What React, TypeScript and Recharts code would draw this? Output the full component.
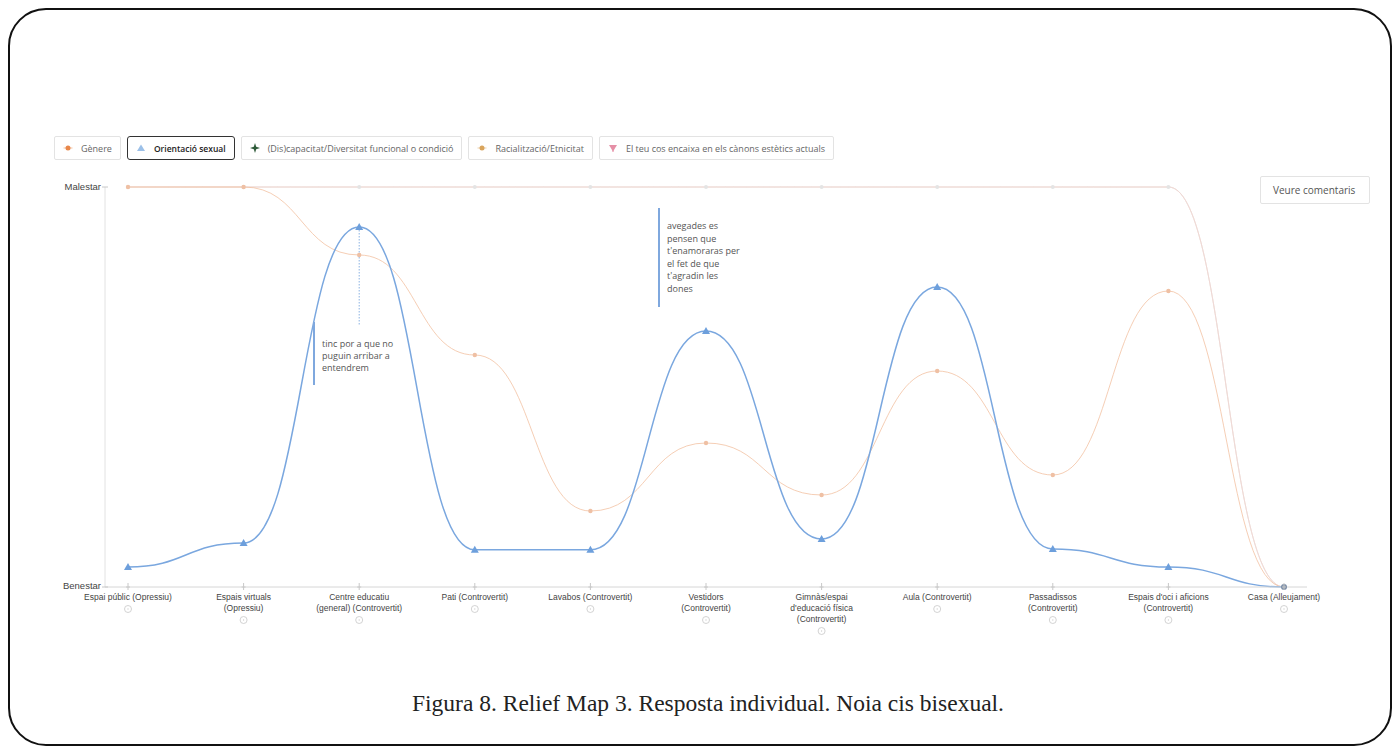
import React from 'react';
import { LineChart, Line, XAxis, YAxis, ReferenceLine } from 'recharts';

const categories = [
  'Espai públic (Opressiu)',
  'Espais virtuals (Opressiu)',
  'Centre educatiu (general) (Controvertit)',
  'Pati (Controvertit)',
  'Lavabos (Controvertit)',
  'Vestidors (Controvertit)',
  "Gimnàs/espai d'educació física (Controvertit)",
  'Aula (Controvertit)',
  'Passadissos (Controvertit)',
  "Espais d'oci i aficions (Controvertit)",
  'Casa (Alleujament)',
];

const tickLines: string[][] = [
  ['Espai públic (Opressiu)'],
  ['Espais virtuals', '(Opressiu)'],
  ['Centre educatiu', '(general) (Controvertit)'],
  ['Pati (Controvertit)'],
  ['Lavabos (Controvertit)'],
  ['Vestidors', '(Controvertit)'],
  ['Gimnàs/espai', "d'educació física", '(Controvertit)'],
  ['Aula (Controvertit)'],
  ['Passadissos', '(Controvertit)'],
  ["Espais d'oci i aficions", '(Controvertit)'],
  ['Casa (Alleujament)'],
];

// 0 = Benestar, 100 = Malestar
const orientacioSexual = [5, 11, 90, 9.3, 9.3, 64, 12, 75, 9.5, 5, 0];
const genere = [100, 100, 83, 58, 19, 36, 23, 54, 28, 74, 0];
const discapacitat = [100, 100, 100, 100, 100, 100, 100, 100, 100, 100, 0];
const racialitzacio = [100, 100, 100, 100, 100, 100, 100, 100, 100, 100, 0];
const cosEstetic = [100, 100, 100, 100, 100, 100, 100, 100, 100, 100, 0];

const yTickLabels: Record<number, string> = { 0: 'Benestar', 100: 'Malestar' };

const legendItems = [
  { label: 'Gènere', icon: 'dotOrange', selected: false },
  { label: 'Orientació sexual', icon: 'triBlue', selected: true },
  { label: '(Dis)capacitat/Diversitat funcional o condició', icon: 'starGreen', selected: false },
  { label: 'Racialització/Etnicitat', icon: 'dotTan', selected: false },
  { label: 'El teu cos encaixa en els cànons estètics actuals', icon: 'triPink', selected: false },
];

const annotationA = ['tinc por a que no', 'puguin arribar a', 'entendrem'];
const annotationB = ['avegades es', 'pensen que', "t'enamoraras per", 'el fet de que', "t'agradin les", 'dones'];

const data = categories.map((c, i) => ({
  cat: c,
  orientacio: orientacioSexual[i],
  genere: genere[i],
  discapacitat: discapacitat[i],
  racialitzacio: racialitzacio[i],
  cos: cosEstetic[i],
}));

const uiFont = '"Open Sans", "DejaVu Sans", sans-serif';
const axisFont = '"Liberation Sans", Arial, sans-serif';

const LegendIcon = ({ kind }: { kind: string }) => {
  if (kind === 'triBlue')
    return (
      <svg width="10" height="10"><polygon points="5,1.5 9,8 1,8" fill="#9cc0e8" /></svg>
    );
  if (kind === 'triPink')
    return (
      <svg width="10" height="10"><polygon points="1,2 9,2 5,8.5" fill="#e58fa6" /><line x1="5" y1="2" x2="5" y2="9" stroke="#e58fa6" /></svg>
    );
  if (kind === 'starGreen')
    return (
      <svg width="10" height="10"><polygon points="5,0 6.2,3.8 10,5 6.2,6.2 5,10 3.8,6.2 0,5 3.8,3.8" fill="#2f5b3a" /></svg>
    );
  const col = kind === 'dotOrange' ? '#e8874a' : '#d9a45c';
  return (
    <svg width="10" height="10"><line x1="0.5" y1="5" x2="9.5" y2="5" stroke={col} strokeOpacity="0.5" /><circle cx="5" cy="5" r="2.5" fill={col} /></svg>
  );
};

const XTick = (props: any) => {
  const { x, y, index } = props;
  const lines = tickLines[index] || [];
  return (
    <g transform={`translate(${x},${y})`}>
      <line x1={0} y1={-4} x2={0} y2={3} stroke="#c8c8c8" strokeWidth={1} />
      <line x1={-2} y1={0} x2={2} y2={0} stroke="#c8c8c8" strokeWidth={1} />
      <text textAnchor="middle" fontFamily={axisFont} fontSize={8.5} fill="#444">
        {lines.map((l, i) => (
          <tspan key={i} x={0} y={13 + i * 11}>{l}</tspan>
        ))}
      </text>
      <circle cx={0} cy={10 + lines.length * 11 + 1} r={3.5} fill="none" stroke="#c8c8c8" strokeWidth={0.8} />
      <line x1={0} y1={10 + lines.length * 11} x2={0} y2={10 + lines.length * 11 + 2} stroke="#c8c8c8" strokeWidth={0.6} />
    </g>
  );
};

const YTick = (props: any) => {
  const { x, y, payload } = props;
  return (
    <g transform={`translate(${x},${y})`}>
      <line x1={-3} y1={0} x2={3} y2={0} stroke="#c8c8c8" />
      <text x={-4} y={payload.value === 0 ? 2 : 3} textAnchor="end" fontFamily={axisFont} fontSize={9.5} fill="#444">
        {yTickLabels[payload.value]}
      </text>
    </g>
  );
};

const TriDot = (props: any) => {
  const { cx, cy, index } = props;
  if (cx == null || cy == null) return <g key={index} />;
  if (index === orientacioSexual.length - 1)
    return <circle key={index} cx={cx} cy={cy} r={3} fill="#7d8fa8" />;
  return <polygon key={index} points={`${cx},${cy - 4} ${cx + 4},${cy + 3} ${cx - 4},${cy + 3}`} fill="#6d9fdc" />;
};

const FaintDot = (color: string, r: number) => (props: any) => {
  const { cx, cy, index } = props;
  if (cx == null || cy == null) return <g key={index} />;
  return <circle key={index} cx={cx} cy={cy} r={r} fill={color} />;
};

export default function App() {
  return (
    <div style={{ position: 'absolute', left: 0, top: 0, width: 1400, height: 753, background: '#fff', overflow: 'hidden' }}>
      <div
        style={{
          position: 'absolute', left: 8, top: 8, width: 1384, height: 738,
          border: '2px solid #111', borderRadius: 38, boxSizing: 'border-box',
        }}
      />
      <div style={{ position: 'absolute', left: 0, top: 0 }}>
        <LineChart width={1400} height={753} data={data} margin={{ top: 187, right: 93, bottom: 136, left: 45 }}>
          <XAxis
            dataKey="cat"
            padding={{ left: 23, right: 23 }}
            axisLine={{ stroke: '#d6d6d6' }}
            tickLine={false}
            tickSize={0}
            tickMargin={0}
            interval={0}
            height={30}
            tick={<XTick />}
          />
          <YAxis
            domain={[0, 100]}
            ticks={[0, 100]}
            width={60}
            axisLine={{ stroke: '#e2e2e2' }}
            tickLine={false}
            tickSize={0}
            tickMargin={0}
            tick={<YTick />}
          />
          <Line type="bumpX" dataKey="discapacitat" stroke="#d8d8d8" strokeWidth={1} strokeOpacity={0.5} dot={FaintDot('#e4e4e4', 2)} isAnimationActive={false} />
          <Line type="bumpX" dataKey="racialitzacio" stroke="#f1d7bd" strokeWidth={1} strokeOpacity={0.6} dot={false} isAnimationActive={false} />
          <Line type="bumpX" dataKey="cos" stroke="#f0d3da" strokeWidth={1} strokeOpacity={0.6} dot={false} isAnimationActive={false} />
          <Line type="bumpX" dataKey="genere" stroke="#f2c2a2" strokeWidth={1} strokeOpacity={0.8} dot={FaintDot('#efc0a4', 2.2)} isAnimationActive={false} />
          <ReferenceLine
            segment={[{ x: categories[2], y: 90 }, { x: categories[2], y: 65.5 }]}
            stroke="#8cb3e3"
            strokeDasharray="1.5 1.5"
            strokeWidth={1}
          />
          <Line type="bumpX" dataKey="orientacio" stroke="#7aa7df" strokeWidth={1.5} dot={TriDot} isAnimationActive={false} />
        </LineChart>
      </div>

      {/* legend */}
      <div style={{ position: 'absolute', left: 54, top: 136, display: 'flex', gap: 6 }}>
        {legendItems.map((it, i) => (
          <div
            key={i}
            style={{
              height: 24, boxSizing: 'border-box', display: 'flex', alignItems: 'center', gap: 8,
              padding: '0 8px 0 8px',
              border: it.selected ? '1.5px solid #333' : '1px solid #e3e3e3',
              borderRadius: it.selected ? 3 : 2,
              fontFamily: uiFont, fontSize: it.selected ? 8.5 : 9, color: it.selected ? '#222' : '#666',
              fontWeight: it.selected ? 600 : 400, whiteSpace: 'nowrap', background: '#fff',
            }}
          >
            <LegendIcon kind={it.icon} />
            <span>{it.label}</span>
          </div>
        ))}
      </div>

      {/* comments button */}
      <div
        style={{
          position: 'absolute', left: 1260, top: 176, width: 110, height: 28, boxSizing: 'border-box',
          border: '1px solid #e3e3e3', borderRadius: 2, fontFamily: uiFont, fontSize: 10, color: '#555',
          display: 'flex', alignItems: 'center', paddingLeft: 12, whiteSpace: 'nowrap',
        }}
      >
        Veure comentaris
      </div>

      {/* annotations */}
      <div style={{ position: 'absolute', left: 313, top: 322, width: 2, height: 63, background: '#7fa8de' }} />
      <div style={{ position: 'absolute', left: 322, top: 338, fontFamily: uiFont, fontSize: 9, lineHeight: '12px', color: '#555', whiteSpace: 'nowrap' }}>
        {annotationA.map((l, i) => <div key={i}>{l}</div>)}
      </div>
      <div style={{ position: 'absolute', left: 658, top: 208, width: 2, height: 99, background: '#7fa8de' }} />
      <div style={{ position: 'absolute', left: 667, top: 220, fontFamily: uiFont, fontSize: 9, lineHeight: '12.6px', color: '#555', whiteSpace: 'nowrap' }}>
        {annotationB.map((l, i) => <div key={i}>{l}</div>)}
      </div>

      {/* caption */}
      <div
        style={{
          position: 'absolute', left: 0, width: 1416, top: 690, textAlign: 'center',
          fontFamily: '"Liberation Serif", "DejaVu Serif", serif', fontSize: 23.5, color: '#222',
        }}
      >
        Figura 8. Relief Map 3. Resposta individual. Noia cis bisexual.
      </div>
    </div>
  );
}
